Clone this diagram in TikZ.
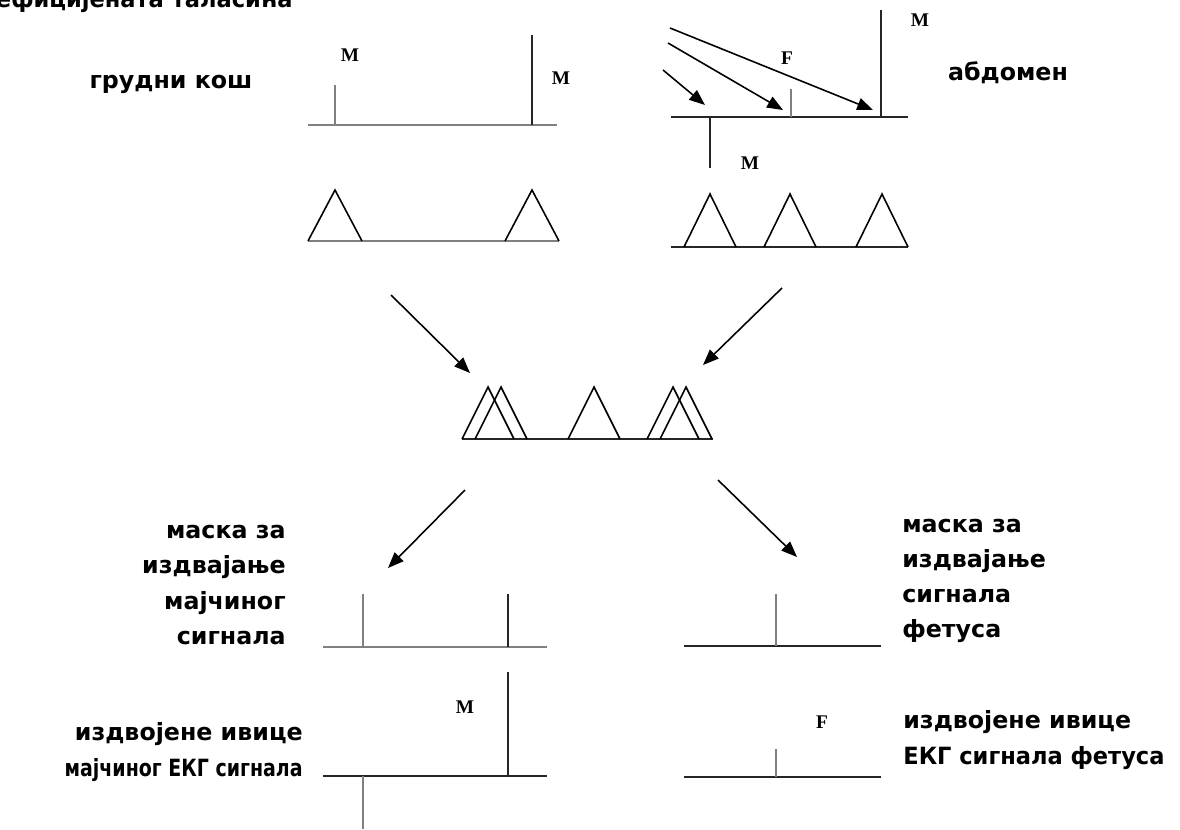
\documentclass[tikz,border=0pt]{standalone}
\usepackage{fontspec}
\usepackage{graphicx}
\newfontfamily\lblfont{DejaVu Sans}
\newfontfamily\pkfont{Liberation Serif}
\usetikzlibrary{arrows.meta}

\begin{document}
\begin{tikzpicture}[x=0.02cm, y=-0.02cm,
  sig/.style={line width=1.1pt, black!85},
  faint/.style={line width=1.1pt, black!50},
  tri/.style={line width=0.9pt},
  arrow/.style={-{Triangle[length=9pt,width=7pt]}, line width=0.9pt},
  lbl/.style={font=\lblfont\bfseries\fontsize{13.5}{20}\selectfont, inner sep=0pt},
  peak/.style={font=\pkfont\bfseries\fontsize{11}{13}\selectfont, inner sep=0pt}
]
\useasboundingbox (0,0) rectangle (1180,829);

\node[lbl, anchor=base east] (title) at (293,7) {\scalebox{0.95}[1]{коефицијената таласића}};
\node[lbl] (chest) at (171,84) {грудни кош};
\node[lbl] (abd) at (1008,73) {абдомен};

% chest signal
\draw[faint] (308,125) -- (557,125);
\draw[faint] (335,85) -- (335,125);
\draw[sig] (532,35) -- (532,125);
\node[peak] (cm1) at (350,55) {M};
\node[peak] (cm2) at (561,78) {M};

% abdomen signal
\draw[sig] (671,117) -- (908,117);
\draw[sig] (710,117) -- (710,168);
\draw[faint] (791,89) -- (791,117);
\draw[sig] (881,10) -- (881,117);
\node[peak] (am1) at (750,163) {M};
\node[peak] (af) at (787,58) {F};
\node[peak] (am2) at (920,20) {M};

\coordinate (s1) at (663,70);  \coordinate (e1) at (705,105);
\coordinate (s2) at (668,43);  \coordinate (e2) at (783,110);
\coordinate (s3) at (670,28);  \coordinate (e3) at (873,110);
\draw[arrow] (s1) -- (e1);
\draw[arrow] (s2) -- (e2);
\draw[arrow] (s3) -- (e3);

% triangles
\draw[faint] (308,241) -- (559,241);
\foreach \c in {335,532}
  \draw[tri] ({\c-27},241) -- (\c,190) -- ({\c+27},241);
\draw[sig] (671,247) -- (908,247);
\foreach \c in {710,790,882}
  \draw[tri] ({\c-26},247) -- (\c,194) -- ({\c+26},247);

\coordinate (s4) at (391,295); \coordinate (e4) at (470,373);
\coordinate (s5) at (782,288); \coordinate (e5) at (703,365);
\draw[arrow] (s4) -- (e4);
\draw[arrow] (s5) -- (e5);

% sum
\draw[sig] (462,439) -- (713,439);
\foreach \c in {488,501,594,673,686}
  \draw[tri] ({\c-26},439) -- (\c,387) -- ({\c+26},439);

\coordinate (s6) at (465,490); \coordinate (e6) at (388,568);
\coordinate (s7) at (718,480); \coordinate (e7) at (797,557);
\draw[arrow] (s6) -- (e6);
\draw[arrow] (s7) -- (e7);

% masks
\draw[faint] (323,647) -- (547,647);
\draw[faint] (363,594) -- (363,647);
\draw[sig] (508,594) -- (508,647);
\node[lbl, align=right, anchor=east] (mmask) at (286,585)
  {маска за\\издвајање\\мајчиног\\сигнала};

\draw[sig] (684,646) -- (881,646);
\draw[faint] (776,594) -- (776,646);
\node[lbl, align=left, anchor=west] (fmask) at (902,581)
  {маска за\\издвајање\\сигнала\\фетуса};

% extracted edges
\draw[sig] (323,776) -- (547,776);
\draw[sig] (508,672) -- (508,776);
\draw[faint] (363,776) -- (363,829);
\node[peak] (em) at (465,707) {M};
\node[lbl, align=right, anchor=east] (medge) at (303,752)
  {издвојене ивице\\\scalebox{0.8}[1]{мајчиног ЕКГ сигнала}};

\draw[sig] (684,777) -- (881,777);
\draw[faint] (776,749) -- (776,777);
\node[peak] (ef) at (822,722) {F};
\node[lbl, align=left, anchor=west] (fedge) at (903,740)
  {издвојене ивице\\\scalebox{0.95}[1]{ЕКГ сигнала фетуса}};
\end{tikzpicture}
\end{document}
